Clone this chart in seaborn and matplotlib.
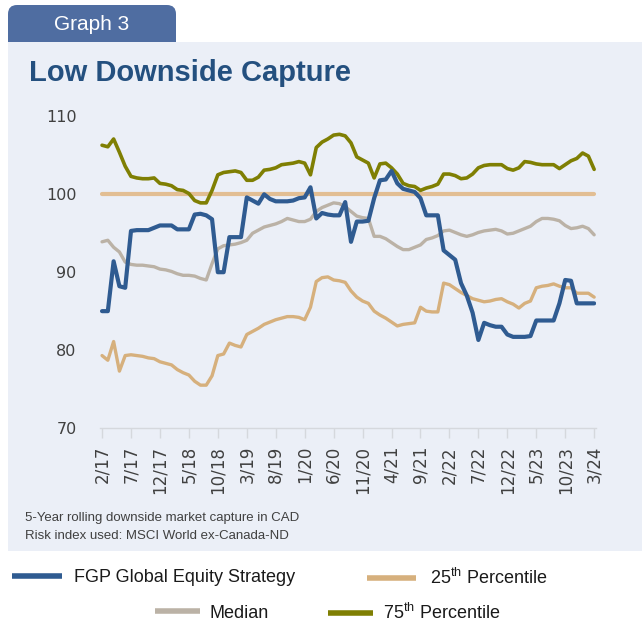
import numpy as np
import pandas as pd
import matplotlib
matplotlib.use("Agg")
import matplotlib.pyplot as plt
import seaborn as sns
from matplotlib.patches import FancyBboxPatch, Rectangle

# ---------------- data ----------------
tick_labels = ["2/17", "7/17", "12/17", "5/18", "10/18", "3/19", "8/19", "1/20",
               "6/20", "11/20", "4/21", "9/21", "2/22", "7/22", "12/22", "5/23",
               "10/23", "3/24"]

fgp = [85.0, 85.0, 91.4, 88.2, 88.0, 95.3, 95.4, 95.4, 95.4, 95.7,
       96.0, 96.0, 96.0, 95.5, 95.5, 95.5, 97.4, 97.5, 97.3, 96.8,
       90.0, 90.0, 94.5, 94.5, 94.5, 99.6, 99.2, 98.8, 100.0, 99.4,
       99.1, 99.1, 99.1, 99.2, 99.5, 99.6, 100.9, 96.9, 97.6, 97.4,
       97.3, 97.3, 99.0, 93.9, 96.5, 96.5, 96.6, 99.5, 101.8, 101.9,
       103.0, 101.4, 100.7, 100.5, 100.3, 99.5, 97.3, 97.3, 97.3, 92.8,
       92.2, 91.6, 88.6, 87.0, 84.8, 81.3, 83.5, 83.2, 83.0, 83.0,
       82.0, 81.7, 81.7, 81.7, 81.8, 83.8, 83.8, 83.8, 83.8, 86.0,
       89.0, 88.9, 86.0, 86.0, 86.0, 86.0]

p25 = [79.3, 78.7, 81.1, 77.3, 79.3, 79.4, 79.3, 79.2, 79.0, 78.9,
       78.5, 78.3, 78.1, 77.5, 77.1, 76.8, 76.0, 75.5, 75.5, 76.7,
       79.3, 79.5, 80.9, 80.6, 80.4, 82.0, 82.4, 82.8, 83.3, 83.6,
       83.9, 84.1, 84.3, 84.3, 84.2, 83.9, 85.5, 88.8, 89.3, 89.4,
       89.0, 88.9, 88.7, 87.6, 86.8, 86.3, 86.0, 85.0, 84.5, 84.1,
       83.6, 83.1, 83.3, 83.4, 83.5, 85.5, 85.0, 84.9, 84.9, 88.6,
       88.4, 87.9, 87.4, 87.0, 86.6, 86.4, 86.2, 86.3, 86.5, 86.6,
       86.2, 85.9, 85.4, 86.0, 86.3, 88.0, 88.2, 88.3, 88.5, 88.2,
       88.0, 88.0, 87.3, 87.3, 87.3, 86.8]

median = [93.9, 94.1, 93.2, 92.6, 91.3, 91.0, 90.9, 90.9, 90.8, 90.7,
          90.4, 90.3, 90.1, 89.8, 89.6, 89.6, 89.5, 89.2, 89.0, 91.1,
          93.0, 93.4, 93.5, 93.6, 93.8, 94.1, 95.0, 95.4, 95.8, 96.0,
          96.2, 96.5, 96.9, 96.7, 96.5, 96.5, 96.8, 97.8, 98.3, 98.6,
          98.9, 98.8, 98.4, 97.8, 97.2, 97.0, 96.9, 94.6, 94.6, 94.3,
          93.8, 93.3, 92.9, 92.9, 93.2, 93.5, 94.2, 94.4, 94.7, 95.3,
          95.4, 95.1, 94.8, 94.6, 94.8, 95.1, 95.3, 95.4, 95.5, 95.3,
          94.9, 95.0, 95.3, 95.6, 95.9, 96.5, 96.9, 96.9, 96.8, 96.6,
          96.0, 95.6, 95.7, 95.9, 95.6, 94.8]

p75 = [106.3, 106.1, 107.1, 105.4, 103.6, 102.3, 102.1, 102.0, 102.0, 102.1,
       101.4, 101.3, 101.1, 100.6, 100.5, 100.1, 99.2, 98.9, 98.9, 100.5,
       102.5, 102.8, 102.9, 103.0, 102.8, 101.8, 101.8, 102.2, 103.1, 103.2,
       103.4, 103.8, 103.9, 104.0, 104.2, 104.0, 102.5, 106.0, 106.7, 107.1,
       107.6, 107.7, 107.5, 106.6, 104.8, 104.4, 104.0, 102.1, 103.9, 104.0,
       103.4, 102.6, 101.4, 101.1, 101.0, 100.5, 100.8, 101.0, 101.3, 102.6,
       102.6, 102.4, 102.0, 102.1, 102.6, 103.4, 103.7, 103.8, 103.8, 103.8,
       103.3, 103.1, 103.4, 104.2, 104.1, 103.9, 103.8, 103.8, 103.8, 103.3,
       103.8, 104.3, 104.6, 105.3, 104.9, 103.2]

index_level = 100

series_names = ["FGP Global Equity Strategy", "25$^{\\mathrm{th}}$ Percentile",
                "Median", "75$^{\\mathrm{th}}$ Percentile"]

# ---------------- style ----------------
sns.set_theme(style="white")
plt.rcParams["font.family"] = ["DejaVu Sans"]
plt.rcParams["mathtext.fontset"] = "custom"
plt.rcParams["mathtext.rm"] = "Liberation Sans"
plt.rcParams["mathtext.it"] = "Liberation Sans:italic"
plt.rcParams["mathtext.bf"] = "Liberation Sans:bold"

C_FGP = "#2F5B91"
C_P25 = "#D6B07D"
C_MED = "#BBB2A6"
C_P75 = "#7F7F03"
C_IDX = "#E2BE93"
PANEL = "#EBEFF7"
TAB = "#4F6DA1"
TITLE = "#24507F"
TXT = "#404040"

W, H = 642, 629
fig = plt.figure(figsize=(W / 100, H / 100), dpi=100)
fig.patch.set_facecolor("white")

def fy(px):
    return 1 - px / H

def fx(px):
    return px / W

# tab and panel (inches coordinates for nice rounding)
tab = FancyBboxPatch((8 / 100, (H - 60) / 100), (176 - 8) / 100, (60 - 5) / 100,
                     boxstyle="round,pad=0,rounding_size=0.09",
                     transform=fig.dpi_scale_trans, facecolor=TAB,
                     edgecolor="none", zorder=-3)
fig.patches.append(tab)
panel = Rectangle((fx(8), fy(551)), fx(W) - fx(8), fy(42) - fy(551),
                  transform=fig.transFigure, facecolor=PANEL, edgecolor="none",
                  zorder=-2)
fig.patches.append(panel)

fig.text(fx(92), fy(30), "Graph 3", color="white", fontsize=15,
         family="Liberation Sans", ha="center", va="baseline")
fig.text(fx(29), fy(81), "Low Downside Capture", color=TITLE, fontsize=21,
         family="Liberation Sans", fontweight="bold", ha="left", va="baseline")
fig.text(fx(25), fy(518), "5-Year rolling downside market capture in CAD",
         color=TXT, fontsize=9.5, family="Liberation Sans", ha="left", va="center")
fig.text(fx(25), fy(536), "Risk index used: MSCI World ex-Canada-ND",
         color=TXT, fontsize=9.5, family="Liberation Sans", ha="left", va="center")

# ---------------- axes ----------------
n = len(fgp)
month = np.arange(n)
ax_left, ax_right = 100.3, 595.9
ax_top, ax_bot = 116.4, 428
ax = fig.add_axes([fx(ax_left), fy(ax_bot), fx(ax_right) - fx(ax_left),
                   fy(ax_top) - fy(ax_bot)])
ax.set_facecolor("none")

sns.lineplot(x=month, y=[index_level] * n, ax=ax, color=C_IDX, linewidth=3.0)
sns.lineplot(x=month, y=p25, ax=ax, color=C_P25, linewidth=2.4, label=series_names[1])
sns.lineplot(x=month, y=median, ax=ax, color=C_MED, linewidth=2.4, label=series_names[2])
sns.lineplot(x=month, y=p75, ax=ax, color=C_P75, linewidth=2.6, label=series_names[3])
sns.lineplot(x=month, y=fgp, ax=ax, color=C_FGP, linewidth=3.0, label=series_names[0])
if ax.get_legend() is not None:
    ax.get_legend().remove()

ax.set_xlim(-0.3, n - 1 + 0.3)
ax.set_ylim(70, 110)
ax.set_yticks([70, 80, 90, 100, 110])
ax.set_xticks(month[::5])
ax.set_xticklabels(tick_labels, rotation=90)
ax.set_xlabel("")
ax.set_ylabel("")
ax.grid(False)
for s in ["left", "right", "top"]:
    ax.spines[s].set_visible(False)
ax.spines["bottom"].set_color("#D5D8DD")
ax.spines["bottom"].set_linewidth(1.0)
ax.tick_params(axis="x", length=7, width=1, color="#D5D8DD", pad=6,
               labelsize=12, labelcolor=TXT, direction="out", bottom=True)
ax.tick_params(axis="y", length=0, pad=17, labelsize=11.5, labelcolor=TXT, left=True)

# ---------------- legend ----------------
lines = {ln.get_label(): ln for ln in ax.get_lines()}
entries = [
    (series_names[0], 12, 578, 2.77, 0.66),
    (series_names[1], 367, 578, 2.72, 0.75),
    (series_names[2], 155, 613, 2.5, 0.5),
    (series_names[3], 328, 613, 2.5, 0.55),
]
for name, x0, y0, hl, hp in entries:
    leg = fig.legend(handles=[lines[name]], labels=[name], loc="center left",
                     bbox_to_anchor=(fx(x0), fy(y0)), bbox_transform=fig.transFigure,
                     frameon=False, handlelength=hl, handletextpad=hp,
                     borderpad=0, borderaxespad=0, prop={"family": "Liberation Sans", "size": 13})
    for t in leg.get_texts():
        t.set_color("#1A1A1A")
    for hl_ in leg.get_lines():
        hl_.set_linewidth(4.0)
        hl_.set_solid_capstyle("butt")

fig.savefig("out.png", dpi=100)
